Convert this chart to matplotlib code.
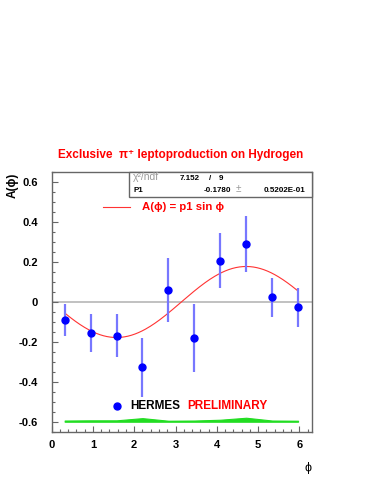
import numpy as np
import matplotlib
matplotlib.use("Agg")
import matplotlib.pyplot as plt
from matplotlib.patches import Rectangle
from matplotlib.ticker import MultipleLocator

plt.rcParams['font.family'] = ['Liberation Sans', 'DejaVu Sans']

# bin centres in phi and measured asymmetry
phi = np.array([0.314, 0.942, 1.571, 2.199, 2.827, 3.456, 4.084, 4.712, 5.341, 5.969])
asym = np.array([-0.090, -0.155, -0.168, -0.327, 0.062, -0.180, 0.207, 0.290, 0.024, -0.027])
asym_err = np.array([0.082, 0.097, 0.110, 0.148, 0.160, 0.170, 0.138, 0.140, 0.098, 0.096])
sys_err = np.array([0.006, 0.007, 0.007, 0.018, 0.005, 0.006, 0.010, 0.020, 0.006, 0.005])
p1 = -0.1780
p1_err = 0.05202
chi2, ndf = 7.152, 9

W, H = 374, 484
fig = plt.figure(figsize=(W / 100, H / 100), dpi=100)

def fx(x):
    return x / W

def fy(y):
    return 1 - y / H

ax = fig.add_axes([fx(51.7), fy(431.7), fx(311.7) - fx(51.7), fy(172.3) - fy(431.7)])
ax.set_xlim(0, 6.3)
ax.set_ylim(-0.65, 0.65)

for s in ax.spines.values():
    s.set_color('#666666')
    s.set_linewidth(1.0)

ax.axhline(0, color='#b0b0b0', lw=1.1, zorder=1)

# systematic band
ax.fill_between(phi, -0.6, -0.6 + sys_err, color='#22dd22', lw=0.8, edgecolor='#22dd22', zorder=2)

# fit curve
xf = np.linspace(phi[0], phi[-1], 200)
ax.plot(xf, p1 * np.sin(xf), color='#ff3333', lw=0.8, zorder=3)

ax.errorbar(phi, asym, yerr=asym_err, fmt='o', color='#0000ff', ms=5,
            ecolor='#7777ff', elinewidth=1.6, capsize=0, zorder=4)

ax.xaxis.set_major_locator(MultipleLocator(1))
ax.xaxis.set_minor_locator(MultipleLocator(0.2))
ax.yaxis.set_major_locator(MultipleLocator(0.2))
ax.yaxis.set_minor_locator(MultipleLocator(0.05))
ax.tick_params(which='both', direction='in', top=False, right=False, color='#666666')
ax.tick_params(which='major', length=4.5, width=0.8)
ax.tick_params(which='minor', length=2.3, width=0.8)
ax.tick_params(axis='y', pad=10)
ax.tick_params(axis='x', pad=6)
ax.set_yticks([-0.6, -0.4, -0.2, 0, 0.2, 0.4, 0.6])
ax.set_yticklabels(['-0.6', '-0.4', '-0.2', '0', '0.2', '0.4', '0.6'])
for lab in ax.get_xticklabels() + ax.get_yticklabels():
    lab.set_fontweight('bold')
    lab.set_fontsize(8)

# title and axis labels
fig.text(fx(181), fy(155), 'Exclusive  \u03c0\u207a leptoproduction on Hydrogen',
         color='#ff0000', fontsize=8.5, fontweight='bold', ha='center', va='center')
fig.text(fx(13), fy(185), 'A(\u03d5)', rotation=90, fontsize=8.5, fontweight='bold',
         ha='center', va='center')
fig.text(fx(307.7), fy(468), '\u03d5', fontsize=9, ha='center', va='center')

# stats box
fig.patches.append(Rectangle((fx(129), fy(196.5)), fx(311.7) - fx(129), fy(172.3) - fy(196.5),
                             transform=fig.transFigure, fill=True, facecolor='white',
                             edgecolor='#666666', lw=1.0, zorder=5))
r1, r2 = fy(179.6), fy(192)
fs = 5.8
fig.text(fx(133), r1, '\u03c7\u00b2/ndf', color='#999999', fontsize=7.5, va='baseline', zorder=6)
fig.text(fx(200), r1, f'{chi2:.3f}', fontsize=fs, fontweight='bold', ha='right', va='baseline', zorder=6)
fig.text(fx(210), r1, '/', fontsize=fs, fontweight='bold', ha='center', va='baseline', zorder=6)
fig.text(fx(221), r1, f'{ndf}', fontsize=fs, fontweight='bold', ha='center', va='baseline', zorder=6)
fig.text(fx(133), r2, 'P1', fontsize=fs, fontweight='bold', va='baseline', zorder=6)
fig.text(fx(231), r2, f'{p1:.4f}', fontsize=fs, fontweight='bold', ha='right', va='baseline', zorder=6)
fig.text(fx(238), r2, '\u00b1', color='#999999', fontsize=7, ha='center', va='baseline', zorder=6)
fig.text(fx(305), r2, '0.5202E-01', fontsize=fs, fontweight='bold', ha='right', va='baseline', zorder=6)

# fit legend
fig.lines.append(plt.Line2D([fx(103), fx(130)], [fy(207.3), fy(207.3)], transform=fig.transFigure,
                            color='#ff3333', lw=0.8))
fig.text(fx(141.5), fy(207.5), 'A(\u03d5) = p1 sin \u03d5', color='#ff0000', fontsize=8.2,
         fontweight='bold', va='center')

# HERMES PRELIMINARY
fig.lines.append(plt.Line2D([fx(116.7)], [fy(406)], transform=fig.transFigure, marker='o',
                            color='#0000ff', ms=5))
fig.text(fx(130.5), fy(406), 'HERMES', fontsize=8.5, fontweight='bold', va='center')
fig.text(fx(187.5), fy(406), 'PRELIMINARY', color='#ff0000', fontsize=8.5, fontweight='bold', va='center')

fig.savefig('out.png', dpi=100)
